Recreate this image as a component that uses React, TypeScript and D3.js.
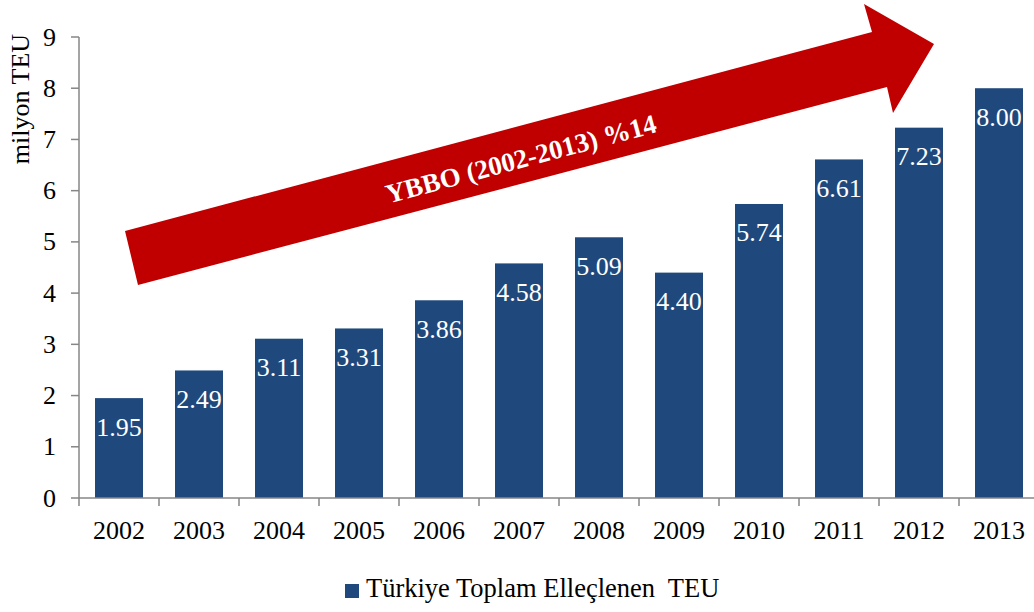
import React from "react";
import * as d3 from "d3";

const years = ["2002","2003","2004","2005","2006","2007","2008","2009","2010","2011","2012","2013"];
const values = [1.95, 2.49, 3.11, 3.31, 3.86, 4.58, 5.09, 4.40, 5.74, 6.61, 7.23, 8.00];
const yTicks = [0,1,2,3,4,5,6,7,8,9];
const seriesName = "Türkiye Toplam Elleçlenen  TEU";
const yTitle = "milyon TEU";
const arrowLabel = "YBBO (2002-2013) %14";

const W = 1034, H = 612;
const FONT = "Liberation Serif, Times New Roman, serif";
const BAR = "#1F497D";
const AXIS = "#868686";
const RED = "#C00000";

export default function App() {
  const x = d3.scaleBand<string>().domain(years).range([79, 1039]).paddingInner(0.4).paddingOuter(0.2);
  const y = d3.scaleLinear().domain([0, 9]).range([498, 37]);
  const step = x.step();
  const x0 = 79;

  // arrow annotation geometry
  const arrowPts: [number, number][] = [
    [125, 231], [872, 32], [864, 4], [934, 44], [893, 113], [887, 87], [138, 285]
  ];
  const angle = (Math.atan2(32 - 231, 872 - 125) * 180) / Math.PI;
  const ts = { fontFamily: FONT };

  return (
    <svg width={W} height={H} style={{ position: "absolute", left: 0, top: 0, background: "#fff" }}>
      {values.map((v, i) => (
        <g key={years[i]}>
          <rect x={x(years[i])} y={y(v)} width={x.bandwidth()} height={y(0) - y(v)} fill={BAR} />
          <text style={ts} x={(x(years[i]) as number) + x.bandwidth() / 2} y={y(v) + 37.5} textAnchor="middle" fill="#fff" fontSize={26}>
            {v.toFixed(2)}
          </text>
        </g>
      ))}
      <line x1={x0} x2={x0} y1={y(9)} y2={y(0)} stroke={AXIS} strokeWidth={1.5} />
      {yTicks.map((t) => (
        <g key={t}>
          <line x1={71} x2={x0} y1={y(t)} y2={y(t)} stroke={AXIS} strokeWidth={1.5} />
          <text style={ts} x={56} y={y(t) + 8.5} textAnchor="end" fontSize={26} fill="#000">{t}</text>
        </g>
      ))}
      <line x1={x0} x2={1039} y1={y(0)} y2={y(0)} stroke={AXIS} strokeWidth={1.5} />
      {d3.range(years.length + 1).map((i) => (
        <line key={i} x1={x0 + i * step} x2={x0 + i * step} y1={y(0)} y2={y(0) + 8} stroke={AXIS} strokeWidth={1.5} />
      ))}
      {years.map((yr) => (
        <text style={ts} key={yr} x={(x(yr) as number) + x.bandwidth() / 2} y={539} textAnchor="middle" fontSize={26} fill="#000">{yr}</text>
      ))}
      <text style={ts} transform="translate(29,99) rotate(-90)" textAnchor="middle" fontSize={26} fill="#000">{yTitle}</text>
      <polygon points={arrowPts.map((p) => p.join(",")).join(" ")} fill={RED} />
      <text style={ts} transform={`translate(521,159) rotate(${angle})`} textAnchor="middle" dy="0.33em" fontSize={27} fontWeight="bold" fill="#fff">
        {arrowLabel}
      </text>
      <rect x={345} y={584} width={14} height={14} fill={BAR} />
      <text style={{ fontFamily: FONT, whiteSpace: "pre" }} x={366} y={597} fontSize={26.5} fill="#000" xmlSpace="preserve">{seriesName}</text>
    </svg>
  );
}
